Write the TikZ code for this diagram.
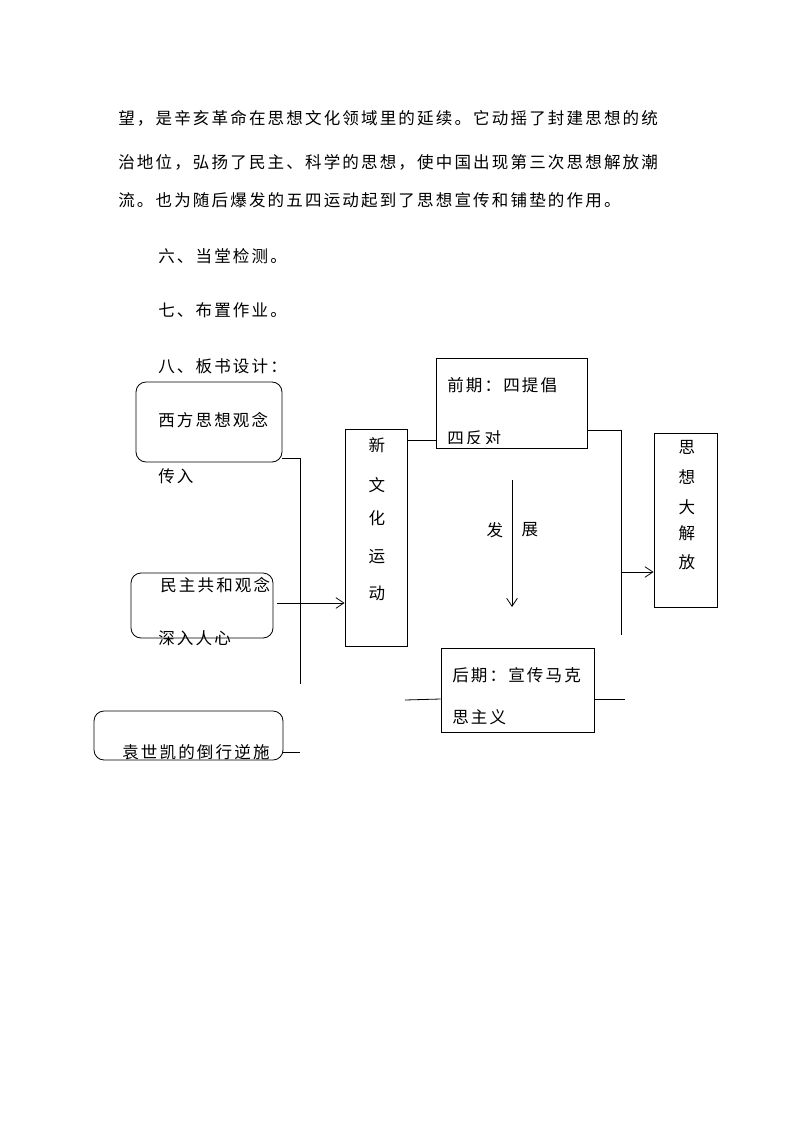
\documentclass[tikz,border=0pt]{standalone}
\usepackage{fontspec}
\newfontfamily\cjk[LetterSpace=13]{Noto Sans CJK SC}
\usetikzlibrary{arrows.meta}
\begin{document}
\begin{tikzpicture}[x=0.75pt,y=-0.75pt,
  txt/.style={anchor=west,inner sep=0pt,font=\cjk\fontsize{12.4pt}{14pt}\selectfont},
  ctxt/.style={anchor=center,inner sep=0pt,font=\cjk\fontsize{12.4pt}{14pt}\selectfont},
  bw/.style={minimum width=#1*0.75pt},
  bh/.style={minimum height=#1*0.75pt},
  rbox/.style={draw,line width=0.6pt,rounded corners=7.5pt,inner sep=0pt},
  sbox/.style={draw,line width=0.6pt,inner sep=0pt},
  ln/.style={line width=0.6pt},
  arr/.style={line width=0.6pt,-{Straight Barb[length=6pt,width=8pt]}}]
\useasboundingbox (0,0) rectangle (794,1123);
% body text
\node[txt] (p1) at (118,118) {望，是辛亥革命在思想文化领域里的延续。它动摇了封建思想的统};
\node[txt] (p2) at (118,162) {治地位，弘扬了民主、科学的思想，使中国出现第三次思想解放潮};
\node[txt] (p3) at (118,200) {流。也为随后爆发的五四运动起到了思想宣传和铺垫的作用。};
\node[txt] (s6) at (158,256) {六、当堂检测。};
\node[txt] (s7) at (158,310) {七、布置作业。};
\node[txt] (s8) at (158,366) {八、板书设计：};
% boxes
\node[rbox,bw=146,bh=80] (b1) at (209,422) {};
\node[rbox,bw=142,bh=65] (b2) at (202,605.5) {};
\node[rbox,bw=189,bh=49] (b3) at (188.5,735.5) {};
\node[sbox,bw=62,bh=217] (xwh) at (376,537.5) {};
\node[sbox,bw=151,bh=90] (qq) at (511.5,403) {};
\node[sbox,bw=153,bh=84] (hq) at (517.5,690) {};
\node[sbox,bw=63,bh=174] (jf) at (685.5,520) {};
% box texts
\node[txt] (t1) at (158,420) {西方思想观念};
\node[txt] (t1b) at (158,476) {传入};
\node[txt] (t2) at (160,585) {民主共和观念};
\node[txt] (t2b) at (158,638) {深入人心};
\node[txt] (t3) at (122,752) {袁世凯的倒行逆施};
\node[ctxt] (x1) at (377,445) {新};
\node[ctxt] (x2) at (377,485) {文};
\node[ctxt] (x3) at (377,518) {化};
\node[ctxt] (x4) at (377,557) {运};
\node[ctxt] (x5) at (377,593) {动};
\node[txt] (q1) at (447,385) {前期：四提倡};
\begin{scope}
\clip (436,420) rectangle (587,443);
\node[txt] (q2) at (447,438) {四反对};
\end{scope}
\node[ctxt] (f1) at (495,530) {发};
\node[ctxt] (f2) at (530,530) {展};
\node[txt] (h1) at (452,675) {后期：宣传马克};
\node[txt] (h2) at (452,717) {思主义};
\node[ctxt] (j1) at (687,447) {思};
\node[ctxt] (j2) at (687,477) {想};
\node[ctxt] (j3) at (687,507) {大};
\node[ctxt] (j4) at (687,533) {解};
\node[ctxt] (j5) at (687,562) {放};
% connector coordinates
\coordinate (v1) at (300,458);
\coordinate (v2) at (300,684);
\coordinate (c3) at (300,752);
\coordinate (cq) at (437,440);
\coordinate (r1) at (621,430);
\coordinate (r2) at (621,635);
\coordinate (r3) at (621,572);
\coordinate (d1) at (512,480);
\coordinate (d2) at (512,607);
\coordinate (l1) at (405,700);
\coordinate (l2) at (625,699);
% connectors
\draw[ln] (b1.east |- v1) -- (v1);
\draw[ln] (v1) -- (v2);
\draw[arr] ([xshift=3pt]b2.east |- 0,603) -- (xwh.west |- 0,603);
\draw[ln] (b3.east |- c3) -- (c3);
\draw[ln] (xwh.east |- cq) -- (qq.west |- cq);
\draw[ln] (qq.east |- r1) -- (r1) -- (r2);
\draw[arr] (r3) -- (jf.west |- r3);
\draw[arr] (d1) -- (d2);
\draw[ln] (hq.west |- 0,699) -- (l1);
\draw[ln] (hq.east |- 0,699) -- (l2);
\end{tikzpicture}
\end{document}
